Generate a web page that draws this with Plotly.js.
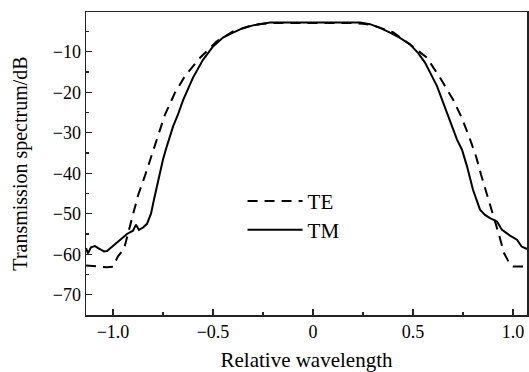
<!DOCTYPE html>
<html>
<head>
<meta charset="utf-8">
<script src="https://cdn.plot.ly/plotly-3.0.1.min.js"></script>
<style>html,body{margin:0;padding:0;background:#fff;}#chart{width:529px;height:372px;}</style>
</head>
<body>
<div id="chart"></div>
<script>
// TE (dashed) series
const xTE = [-1.135, -1.10, -1.06, -1.03, -1.0, -0.975, -0.945, -0.92, -0.90, -0.875, -0.84, -0.81, -0.775, -0.74, -0.69, -0.64, -0.565, -0.48, -0.40, -0.30, -0.25, -0.20, -0.10, 0, 0.10, 0.20, 0.25, 0.30, 0.40, 0.48, 0.57, 0.64, 0.70, 0.74, 0.78, 0.815, 0.84, 0.87, 0.90, 0.93, 0.955, 0.985, 1.0, 1.03, 1.07];
const yTE = [-62.8, -62.9, -63.0, -63.2, -63.1, -60.5, -58.7, -54.0, -50.0, -45.5, -40.6, -36.0, -30.4, -25.5, -20.1, -16.0, -11.5, -7.4, -5.0, -3.4, -3.1, -2.9, -2.9, -2.9, -2.9, -2.9, -3.1, -3.5, -5.2, -8.0, -11.5, -16.8, -21.8, -25.9, -30.9, -35.8, -40.3, -45.3, -49.8, -55.2, -59.7, -62.5, -63.0, -63.0, -63.0];
// TM (solid) series
const xTM = [-1.135, -1.125, -1.11, -1.09, -1.07, -1.045, -1.03, -1.0, -0.97, -0.93, -0.90, -0.885, -0.87, -0.85, -0.83, -0.81, -0.795, -0.78, -0.765, -0.75, -0.735, -0.70, -0.675, -0.65, -0.60, -0.55, -0.50, -0.45, -0.40, -0.35, -0.30, -0.25, -0.215, -0.10, 0, 0.10, 0.235, 0.285, 0.335, 0.385, 0.435, 0.485, 0.525, 0.56, 0.59, 0.62, 0.67, 0.72, 0.745, 0.77, 0.80, 0.835, 0.86, 0.885, 0.92, 0.945, 0.985, 1.02, 1.043, 1.07];
const yTM = [-58.5, -59.8, -58.3, -58.0, -58.6, -59.3, -59.2, -58.0, -56.6, -55.0, -54.2, -52.7, -54.0, -53.4, -52.5, -50.0, -46.5, -43.0, -39.9, -36.6, -34.0, -28.5, -25.5, -22.0, -16.4, -12.0, -8.7, -6.5, -5.3, -4.2, -3.5, -3.1, -2.8, -2.8, -2.8, -2.8, -2.8, -3.2, -4.1, -5.3, -6.6, -8.2, -10.3, -12.7, -15.5, -18.5, -25.1, -31.7, -34.2, -38.3, -44.1, -49.0, -50.3, -51.1, -51.9, -54.0, -55.4, -56.4, -58.1, -58.7];

const xTickVals = [-1.0, -0.5, 0, 0.5, 1.0];
const xTickText = ['\u22121.0', '\u22120.5', '0', '0.5', '1.0'];
const yTickVals = [-70, -60, -50, -40, -30, -20, -10];
const yTickText = ['\u221270', '\u221260', '\u221250', '\u221240', '\u221230', '\u221220', '\u221210'];

const font = {family: 'Liberation Serif, Times New Roman, serif', color: '#000'};

const traces = [
  {x: xTE, y: yTE, name: 'TE', mode: 'lines', legend: 'legend',
   line: {color: '#000', width: 2, dash: '10px,7px'}},
  {x: xTM, y: yTM, name: 'TM', mode: 'lines', legend: 'legend2',
   line: {color: '#000', width: 2}}
];

const axisCommon = {
  showgrid: false, zeroline: false, showline: true, linecolor: '#222', linewidth: 1.5,
  mirror: true, ticks: 'inside', ticklen: 6, tickwidth: 1.3, tickcolor: '#222',
  tickfont: Object.assign({size: 18}, font)
};

const layout = {
  width: 529, height: 372,
  margin: {l: 86, r: 2, t: 12, b: 57},
  paper_bgcolor: '#fff', plot_bgcolor: '#fff',
  font: font,
  showlegend: true,
  xaxis: Object.assign({}, axisCommon, {
    range: [-1.135, 1.07], tickmode: 'array', tickvals: xTickVals, ticktext: xTickText,
    minor: {tickvals: [-0.75, -0.25, 0.25, 0.75], ticks: 'inside', ticklen: 3, tickcolor: '#222', tickwidth: 1.2},
    title: {text: 'Relative wavelength', font: Object.assign({size: 21}, font), standoff: 15}
  }),
  yaxis: Object.assign({}, axisCommon, {
    range: [-75, -0.2], tickmode: 'array', tickvals: yTickVals, ticktext: yTickText,
    minor: {tickvals: [-75, -65, -55, -45, -35, -25, -15, -5], ticks: 'inside', ticklen: 3, tickcolor: '#222', tickwidth: 1.2},
    title: {text: 'Transmission spectrum/dB', font: Object.assign({size: 20}, font), standoff: 19}
  }),
  legend: {x: 0.355, y: 0.375, xanchor: 'left', yanchor: 'middle', bgcolor: 'rgba(0,0,0,0)',
           font: Object.assign({size: 21}, font), itemwidth: 55},
  legend2: {x: 0.355, y: 0.28, xanchor: 'left', yanchor: 'middle', bgcolor: 'rgba(0,0,0,0)',
           font: Object.assign({size: 21}, font), itemwidth: 55}
};

Plotly.newPlot('chart', traces, layout, {displayModeBar: false, staticPlot: true});
</script>
</body>
</html>
